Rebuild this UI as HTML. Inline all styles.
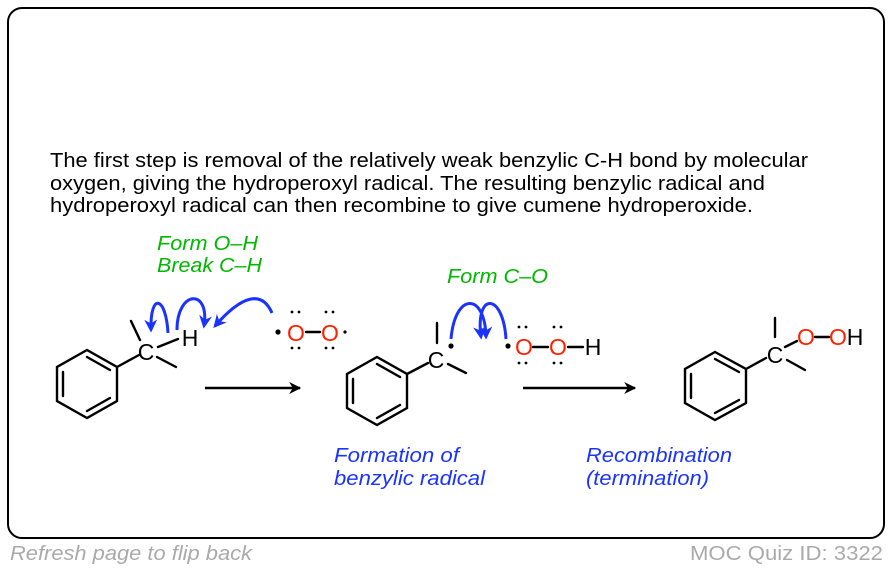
<!DOCTYPE html>
<html><head><meta charset="utf-8"><style>
html,body{margin:0;padding:0;background:#fff;}
svg{display:block;font-family:"Liberation Sans",sans-serif;}
</style></head><body>
<svg width="890" height="570" viewBox="0 0 890 570" xmlns="http://www.w3.org/2000/svg">
<defs>
<marker id="ah" viewBox="0 0 10 10" refX="9" refY="5" markerWidth="14" markerHeight="12" orient="auto" markerUnits="userSpaceOnUse"><path d="M0,0 L10,5 L0,10 L3,5 z" fill="#000"/></marker>
<marker id="bh" viewBox="0 0 10 10" refX="8" refY="5" markerWidth="13" markerHeight="13" orient="auto" markerUnits="userSpaceOnUse"><path d="M0,0 L10,5 L0,10 L3,5 z" fill="#1a33ff"/></marker>
</defs>
<rect x="8" y="8" width="876" height="530" rx="14" fill="#fff" stroke="#000" stroke-width="2"/>
<g font-size="20" fill="#000">
<text x="50" y="167" textLength="758" lengthAdjust="spacingAndGlyphs">The first step is removal of the relatively weak benzylic C-H bond by molecular</text>
<text x="50" y="190" textLength="715" lengthAdjust="spacingAndGlyphs">oxygen, giving the hydroperoxyl radical. The resulting benzylic radical and</text>
<text x="50" y="212" textLength="703" lengthAdjust="spacingAndGlyphs">hydroperoxyl radical can then recombine to give cumene hydroperoxide.</text>
</g>
<g font-size="20" font-style="italic" fill="#00b800">
<text x="157" y="250" textLength="101" lengthAdjust="spacingAndGlyphs">Form O–H</text>
<text x="157" y="272" textLength="105" lengthAdjust="spacingAndGlyphs">Break C–H</text>
<text x="447" y="283" textLength="101" lengthAdjust="spacingAndGlyphs">Form C–O</text>
</g>
<g font-size="20" font-style="italic" fill="#1a33ff">
<text x="334" y="462" textLength="125" lengthAdjust="spacingAndGlyphs">Formation of</text>
<text x="334" y="485" textLength="151" lengthAdjust="spacingAndGlyphs">benzylic radical</text>
<text x="586" y="462" textLength="146" lengthAdjust="spacingAndGlyphs">Recombination</text>
<text x="586" y="485" textLength="123" lengthAdjust="spacingAndGlyphs">(termination)</text>
</g>
<g font-size="20" fill="#aaa">
<text x="10" y="560" font-style="italic" textLength="242" lengthAdjust="spacingAndGlyphs">Refresh page to flip back</text>
<text x="883" y="560" text-anchor="end" textLength="193" lengthAdjust="spacingAndGlyphs">MOC Quiz ID: 3322</text>
</g>
<g stroke="#000" stroke-width="2.4" fill="none" stroke-linecap="round">
<polygon points="87,350 117,367 117,401 87,418 57,401 57,367"/>
<line x1="63" y1="372" x2="63" y2="396"/><line x1="87" y1="357" x2="110" y2="370"/><line x1="87" y1="411" x2="110" y2="398"/>
<line x1="117" y1="367" x2="139" y2="355"/>
<line x1="131" y1="321" x2="140" y2="340"/>
<line x1="157" y1="357" x2="176" y2="367"/>
<line x1="158" y1="347" x2="178" y2="339"/>
<polygon points="377,357 407,374 407,408 377,425 347,408 347,374"/>
<line x1="353" y1="379" x2="353" y2="403"/><line x1="377" y1="364" x2="400" y2="377"/><line x1="377" y1="418" x2="400" y2="405"/>
<line x1="407" y1="374" x2="428" y2="363"/>
<line x1="437" y1="323" x2="437" y2="343"/>
<line x1="448" y1="364" x2="466" y2="373"/>
<line x1="533" y1="347" x2="548" y2="347"/>
<line x1="568" y1="347" x2="583" y2="347"/>
<polygon points="715,352 746,369 746,403 715,420 685,403 685,369"/>
<line x1="691" y1="374" x2="691" y2="398"/><line x1="715" y1="359" x2="739" y2="372"/><line x1="715" y1="413" x2="739" y2="400"/>
<line x1="746" y1="369" x2="766" y2="358"/>
<line x1="775" y1="318" x2="775" y2="337"/>
<line x1="787" y1="360" x2="805" y2="370"/>
<line x1="785" y1="347" x2="797" y2="341"/>
<line x1="815" y1="337" x2="829" y2="337"/>
<line x1="306" y1="332" x2="320" y2="332"/>
</g>
<line x1="205" y1="388" x2="300" y2="388" stroke="#000" stroke-width="2.4" marker-end="url(#ah)"/>
<line x1="523" y1="388" x2="635" y2="388" stroke="#000" stroke-width="2.4" marker-end="url(#ah)"/>
<g font-size="23">
<text x="146" y="360" text-anchor="middle">C</text>
<text x="190" y="346" text-anchor="middle">H</text>
<text x="296" y="341" text-anchor="middle" fill="#ff2000">O</text>
<text x="330" y="341" text-anchor="middle" fill="#ff2000">O</text>
<text x="436" y="368" text-anchor="middle">C</text>
<text x="524" y="355" text-anchor="middle" fill="#ff2000">O</text>
<text x="558" y="355" text-anchor="middle" fill="#ff2000">O</text>
<text x="593" y="355" text-anchor="middle">H</text>
<text x="775" y="363" text-anchor="middle">C</text>
<text x="806" y="345" text-anchor="middle" fill="#ff2000">O</text>
<text x="838" y="345" text-anchor="middle" fill="#ff2000">O</text>
<text x="855" y="345" text-anchor="middle">H</text>
</g>
<g fill="#000">
<circle cx="278" cy="332" r="2.6"/><circle cx="345" cy="332" r="1.6"/>
<circle cx="292" cy="312" r="1.4"/><circle cx="299" cy="312" r="1.4"/><circle cx="326" cy="312" r="1.4"/><circle cx="333" cy="312" r="1.4"/>
<circle cx="292" cy="348" r="1.4"/><circle cx="299" cy="348" r="1.4"/><circle cx="326" cy="348" r="1.4"/><circle cx="333" cy="348" r="1.4"/>
<circle cx="451" cy="346" r="2.6"/><circle cx="508" cy="346" r="2.6"/>
<circle cx="519" cy="327" r="1.4"/><circle cx="526" cy="327" r="1.4"/><circle cx="554" cy="327" r="1.4"/><circle cx="561" cy="327" r="1.4"/>
<circle cx="519" cy="363" r="1.4"/><circle cx="526" cy="363" r="1.4"/><circle cx="554" cy="363" r="1.4"/><circle cx="561" cy="363" r="1.4"/>
</g>
<g stroke="#1a33ff" stroke-width="3" fill="none">
<path d="M168,333 C166,296 150,292 151,330" marker-end="url(#bh)"/>
<path d="M177,330 C177,290 210,288 204,326" marker-end="url(#bh)"/>
<path d="M272,313 C262,290 242,295 215,326" marker-end="url(#bh)"/>
<path d="M451,339 C455,292 485,292 486,337" marker-end="url(#bh)"/>
<path d="M506,339 C503,292 475,292 481,337" marker-end="url(#bh)"/>
</g>
</svg>
</body></html>
